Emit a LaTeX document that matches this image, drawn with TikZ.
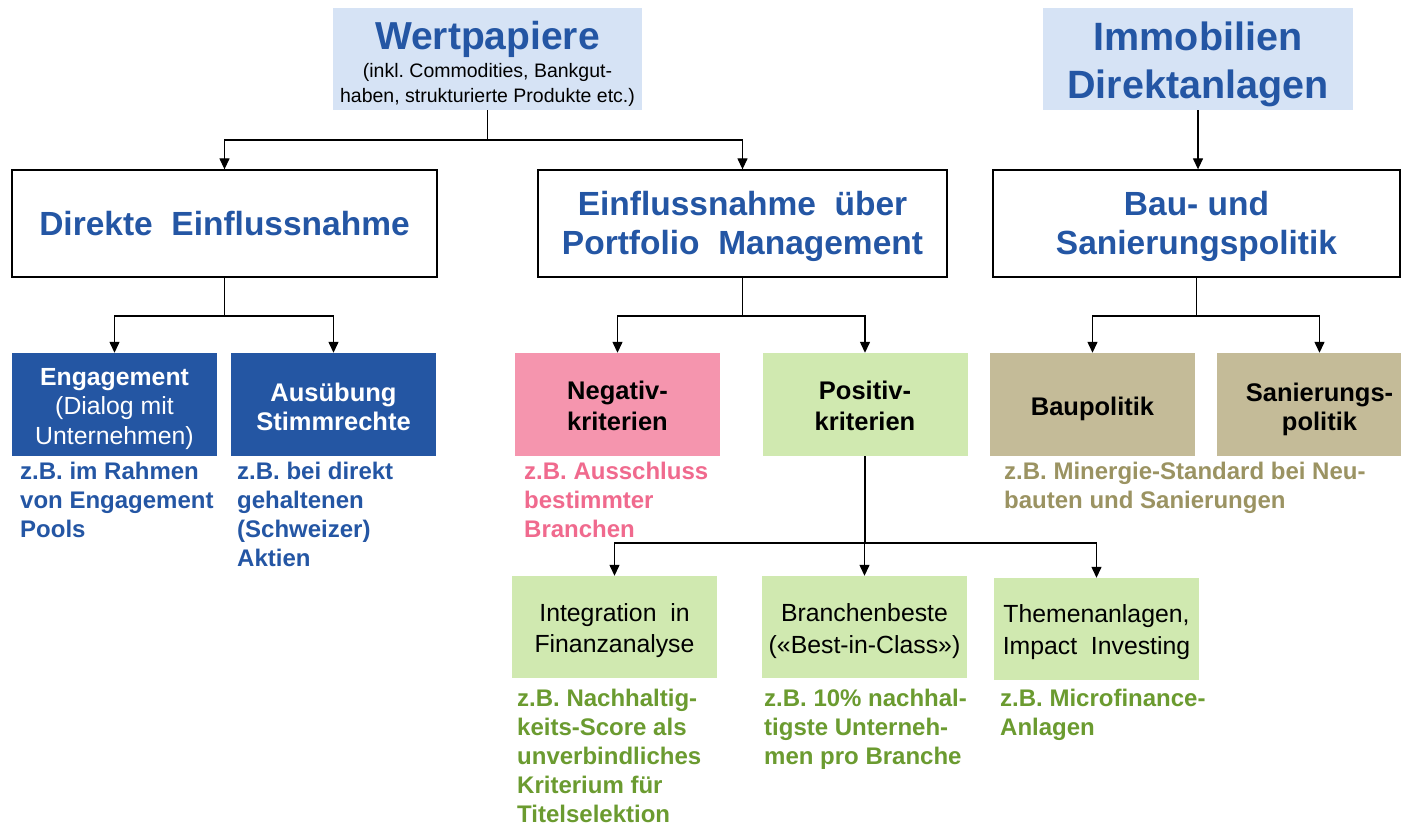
\documentclass[tikz,border=0pt]{standalone}
\usepackage{fontspec}
\setmainfont{Liberation Sans}
\usetikzlibrary{arrows.meta}
\definecolor{tblue}{HTML}{2456A4}
\definecolor{lblue}{HTML}{D6E3F5}
\definecolor{dbluefill}{HTML}{2456A3}
\definecolor{pinkfill}{HTML}{F595AE}
\definecolor{pinktext}{HTML}{F06A8E}
\definecolor{greenfill}{HTML}{D0E9B0}
\definecolor{greentext}{HTML}{6B9B30}
\definecolor{tanfill}{HTML}{C4BB98}
\definecolor{olivetext}{HTML}{9B9362}
\frenchspacing
\begin{document}
\begin{tikzpicture}[x=1pt,y=-1pt,
  topbox/.style={fill=lblue, draw=none, minimum width=310pt, minimum height=102pt, inner sep=0pt, align=center},
  midbox/.style={fill=white, draw=black, line width=1.3pt, minimum height=107pt, inner sep=0pt, align=center,
     text=tblue, font=\fontsize{33.5}{39}\selectfont\bfseries},
  smallbox/.style={draw=none, minimum width=205pt, minimum height=103pt, inner sep=0pt, align=center,
     font=\fontsize{24.8}{30}\selectfont},
  boldbox/.style={smallbox, font=\fontsize{25.5}{30}\selectfont\bfseries},
  note/.style={anchor=north west, inner sep=0pt, align=left, font=\fontsize{24}{29}\selectfont\bfseries},
  conn/.style={line width=1.3pt, -{Triangle[length=11pt,width=10pt]}}]
\clip (0,0) rectangle (1401,826);
\fill[white] (0,0) rectangle (1401,826);

% top boxes
\node[topbox, minimum width=309pt, font=\fontsize{19.5}{25}\selectfont] (wp) at (487.5,59)
  {{\fontsize{39}{40}\selectfont\bfseries\color{tblue}\rule{0pt}{39pt}Wertpapiere}\\[3pt]
   (inkl. Commodities, Bankgut-\\haben, strukturierte Produkte etc.)};
\node[topbox, text=tblue, font=\fontsize{39.5}{48}\selectfont\bfseries] (im) at (1198,59)
  {\rule{0pt}{40pt}Immobilien\\Direktanlagen};

% level 2
\node[midbox, minimum width=425pt] (de) at (224.5,223.5) {Direkte\ \ Einflussnahme};
\node[midbox, minimum width=409pt] (pm) at (742.5,223.5) {\rule{0pt}{30pt}Einflussnahme\ \ über\\Portfolio\ \ Management};
\node[midbox, minimum width=407pt] (bs) at (1196.5,223.5) {\rule{0pt}{30pt}Bau- und\\Sanierungspolitik};

% level 3
\node[smallbox, fill=dbluefill, text=white, font=\fontsize{24.8}{29.5}\selectfont] (eng) at (114.5,404.5)
  {\rule{0pt}{26pt}\textbf{Engagement}\\(Dialog mit\\Unternehmen)};
\node[boldbox, fill=dbluefill, text=white, font=\fontsize{25.5}{29}\selectfont\bfseries] (aus) at (333.5,404.5)
  {\rule{0pt}{24pt}Ausübung\\Stimmrechte};
\node[boldbox, fill=pinkfill, font=\fontsize{25.5}{31}\selectfont\bfseries] (neg) at (617.5,404.5)
  {\rule{0pt}{22pt}Negativ-\\kriterien};
\node[boldbox, fill=greenfill, font=\fontsize{25.5}{31}\selectfont\bfseries] (pos) at (865,404.5)
  {\rule{0pt}{22pt}Positiv-\\kriterien};
\node[boldbox, fill=tanfill] (bau) at (1092.5,404.5)
  {\rule{0pt}{27pt}Baupolitik};
\node[boldbox, fill=tanfill, font=\fontsize{25.5}{29}\selectfont\bfseries] (san) at (1319.5,404.5)
  {\rule{0pt}{28pt}Sanierungs-\\politik};

% level 4
\node[smallbox, fill=greenfill, minimum height=102pt, font=\fontsize{24.8}{31}\selectfont] (int) at (614.5,627)
  {\rule{0pt}{25pt}Integration\ \ in\\Finanzanalyse};
\node[smallbox, fill=greenfill, minimum height=102pt, font=\fontsize{24.8}{32}\selectfont] (bb) at (864.5,627)
  {\rule{0pt}{27pt}Branchenbeste\\(«Best-in-Class»)};
\node[smallbox, fill=greenfill, minimum height=102pt, font=\fontsize{24.8}{32}\selectfont] (th) at (1096.5,629)
  {\rule{0pt}{25pt}Themenanlagen,\\Impact\ \ Investing};

% notes
\node[note, text=tblue] (n1) at (20,462) {z.B. im Rahmen\\von Engagement\\Pools};
\node[note, text=tblue] (n2) at (237,462) {z.B. bei direkt\\gehaltenen\\(Schweizer)\\Aktien};
\node[note, text=pinktext] (n3) at (524,462) {z.B. Ausschluss\\bestimmter\\Branchen};
\node[note, text=olivetext] (n4) at (1004,462) {z.B. Minergie-Standard bei Neu-\\bauten und Sanierungen};
\node[note, text=greentext] (n5) at (517,689) {z.B. Nachhaltig-\\keits-Score als\\unverbindliches\\Kriterium für\\Titelselektion};
\node[note, text=greentext] (n6) at (764,689) {z.B. 10\% nachhal-\\tigste Unterneh-\\men pro Branche};
\node[note, text=greentext] (n7) at (1000,689) {z.B. Microfinance-\\Anlagen};

% connectors
\draw[conn] (wp.south) -- (wp.south |- 0,140) -| (de.north);
\draw[conn] (wp.south) -- (wp.south |- 0,140) -| (pm.north);
\draw[conn] (im.south) -- (bs.north -| im.south);
\draw[conn] (de.south) -- (de.south |- 0,316) -| (eng.north);
\draw[conn] (de.south) -- (de.south |- 0,316) -| (aus.north);
\draw[conn] (pm.south) -- (pm.south |- 0,316) -| (neg.north);
\draw[conn] (pm.south) -- (pm.south |- 0,316) -| (pos.north);
\draw[conn] (bs.south) -- (bs.south |- 0,316) -| (bau.north);
\draw[conn] (bs.south) -- (bs.south |- 0,316) -| (san.north);
\draw[conn] (pos.south) -- (pos.south |- 0,543) -| (int.north);
\draw[conn] (pos.south) -- (pos.south |- 0,543) -| (bb.north);
\draw[conn] (pos.south) -- (pos.south |- 0,543) -| (th.north);
\end{tikzpicture}
\end{document}
